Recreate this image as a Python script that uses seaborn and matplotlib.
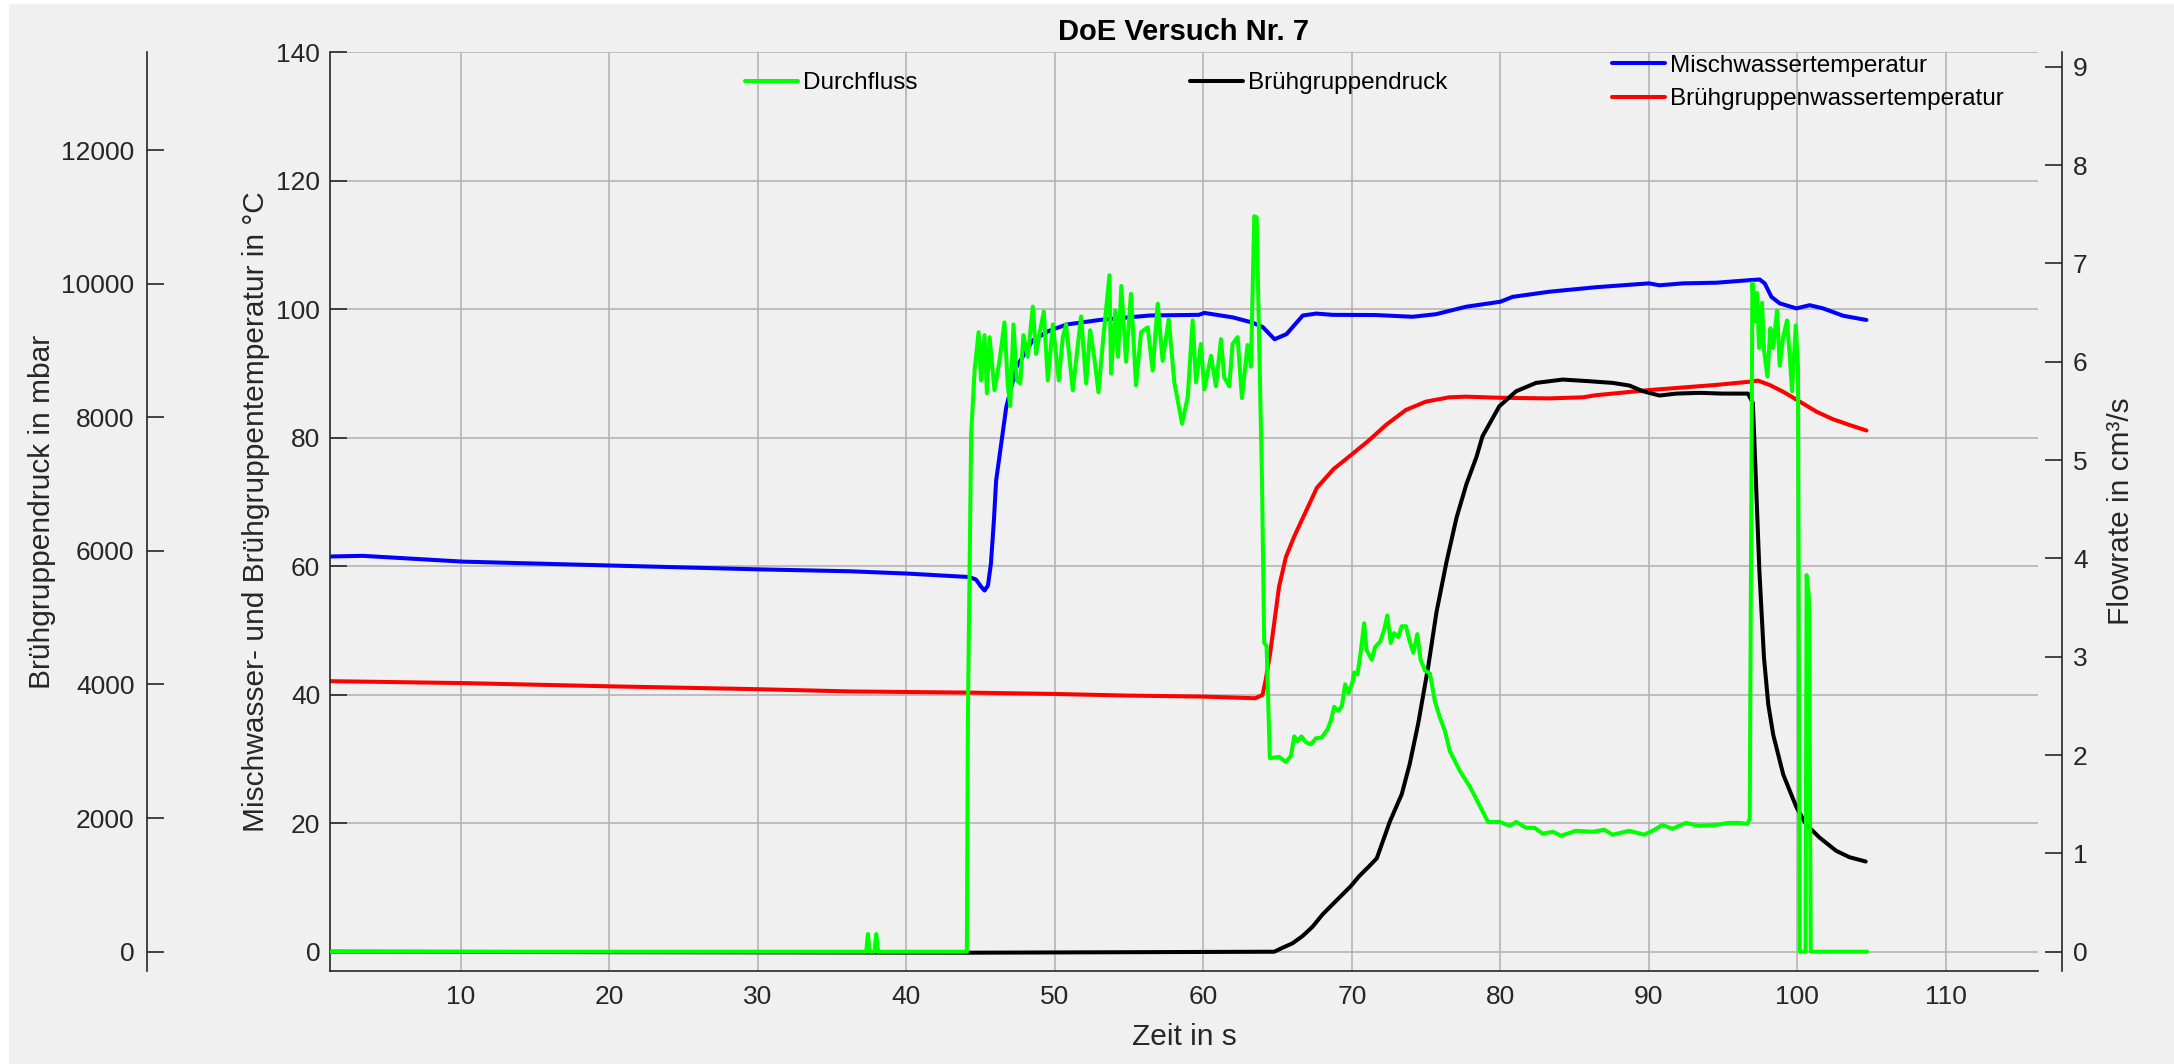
import numpy as np
import pandas as pd
import seaborn as sns
import matplotlib.pyplot as plt
from matplotlib.patches import Rectangle

# Durchfluss in cm^3/s (right axis)
t_flow = [1.2, 37.3, 37.42, 37.54, 37.86, 37.98, 38.1, 44.08, 44.15, 44.37, 44.6, 44.87,
          45.04, 45.27, 45.43, 45.61, 45.94, 46.28, 46.61, 46.84, 47.0, 47.22, 47.44, 47.67,
          47.89, 48.18, 48.52, 48.74, 48.97, 49.26, 49.53, 49.87, 50.27, 50.54, 50.76, 51.21,
          51.77, 52.11, 52.38, 52.67, 52.94, 53.27, 53.68, 53.79, 54.08, 54.26, 54.48, 54.8,
          55.13, 55.47, 55.81, 56.26, 56.59, 56.93, 57.26, 57.67, 58.05, 58.57, 58.95, 59.28,
          59.51, 59.84, 60.07, 60.52, 60.85, 61.19, 61.41, 61.75, 61.97, 62.31, 62.6, 62.98,
          63.21, 63.43, 63.59, 63.77, 63.95, 64.1, 64.26, 64.48, 65.11, 65.56, 65.9, 66.12,
          66.35, 66.61, 66.91, 67.24, 67.58, 67.98, 68.36, 68.59, 68.81, 69.1, 69.33, 69.55,
          69.78, 70.04, 70.16, 70.38, 70.61, 70.83, 70.99, 71.34, 71.57, 71.9, 72.17, 72.39,
          72.62, 72.84, 73.13, 73.36, 73.65, 73.87, 74.14, 74.41, 74.63, 74.92, 75.26, 75.59,
          75.93, 76.26, 76.6, 77.27, 77.94, 78.39, 79.17, 79.96, 80.63, 81.07, 81.74, 82.3,
          82.86, 83.53, 84.09, 85.1, 86.22, 87.0, 87.56, 88.68, 89.69, 90.25, 90.92, 91.59,
          92.48, 93.38, 94.5, 95.39, 96.06, 96.62, 96.79, 96.97, 97.12, 97.28, 97.42, 97.62,
          97.75, 97.98, 98.18, 98.36, 98.63, 98.81, 99.03, 99.3, 99.48, 99.64, 99.89, 100.04,
          100.16, 100.55, 100.62, 100.78, 100.9, 104.7]
flow = [0, 0, 0.18, 0, 0, 0.18, 0, 0, 2.4, 5.27, 5.91, 6.30,
        5.81, 6.27, 5.68, 6.25, 5.71, 6.01, 6.40, 5.75, 5.55, 6.38, 5.81, 5.78,
        6.27, 6.05, 6.56, 6.08, 6.28, 6.51, 5.81, 6.38, 5.81, 6.25, 6.38, 5.71,
        6.46, 5.78, 6.32, 6.03, 5.69, 6.25, 6.88, 5.88, 6.52, 6.05, 6.77, 6.00,
        6.69, 5.76, 6.30, 6.35, 5.91, 6.59, 6.01, 6.43, 5.79, 5.37, 5.64, 6.42,
        5.79, 6.18, 5.72, 6.06, 5.75, 6.23, 5.84, 5.75, 6.18, 6.25, 5.63, 6.17,
        5.95, 7.48, 7.47, 6.15, 4.80, 3.14, 3.11, 1.97, 1.98, 1.93, 1.99, 2.19,
        2.14, 2.19, 2.13, 2.11, 2.17, 2.18, 2.26, 2.35, 2.49, 2.45, 2.50, 2.72,
        2.63, 2.74, 2.84, 2.82, 3.06, 3.34, 3.07, 2.97, 3.10, 3.15, 3.27, 3.42,
        3.14, 3.24, 3.20, 3.31, 3.31, 3.17, 3.04, 3.23, 2.97, 2.86, 2.83, 2.55,
        2.38, 2.25, 2.04, 1.84, 1.68, 1.55, 1.32, 1.32, 1.28, 1.32, 1.26, 1.26,
        1.20, 1.22, 1.18, 1.23, 1.22, 1.24, 1.19, 1.23, 1.19, 1.23, 1.29, 1.25,
        1.31, 1.28, 1.29, 1.31, 1.31, 1.30, 1.35, 6.80, 6.41, 6.70, 6.14, 6.60,
        6.12, 5.85, 6.34, 6.14, 6.52, 5.96, 6.24, 6.42, 6.07, 5.70, 6.37, 5.94,
        0, 0, 3.83, 3.60, 0, 0]

# Brühgruppendruck in mbar (outer left axis)
t_press = [1.2, 44.1, 64.78, 65.34, 66.0, 66.68, 67.35, 68.03, 68.92, 69.93, 70.49, 71.17,
           71.68, 72.57, 73.36, 73.9, 74.47, 75.15, 75.7, 76.38, 77.05, 77.72, 78.39, 78.8,
           79.93, 81.06, 82.4, 84.2, 86.0, 87.57, 88.7, 89.6, 90.72, 91.84, 93.4, 94.99,
           96.67, 97.0, 97.2, 97.44, 97.75, 98.04, 98.37, 99.05, 99.94, 100.6, 101.5, 102.6,
           103.5, 104.6]
press = [0, -15, 0, 60, 125, 234, 373, 558, 757, 981, 1130, 1280,
         1398, 1954, 2357, 2812, 3417, 4276, 5083, 5840, 6497, 7002, 7405, 7716,
         8164, 8389, 8514, 8564, 8539, 8514, 8474, 8389, 8325, 8354, 8365, 8354,
         8354, 8215, 7100, 5700, 4400, 3700, 3250, 2650, 2160, 1902, 1707, 1512,
         1415, 1350]

# Mischwassertemperatur in °C
t_mix = [1.2, 3.4, 10.15, 20.0, 30.0, 36.2, 40.0, 44.26, 44.7, 45.04, 45.27, 45.5, 45.7,
         45.9, 46.05, 46.73, 47.4, 48.5, 49.6, 50.8, 53.0, 56.4, 59.7, 60.07, 62.0, 63.3,
         64.0, 64.8, 65.6, 66.7, 67.6, 68.7, 71.6, 74.09, 75.66, 77.69, 80.0, 80.83, 83.3,
         86.45, 90.0, 90.72, 92.3, 94.54, 96.79, 97.46, 97.8, 98.25, 98.8, 99.93, 100.83,
         101.73, 103.08, 104.65]
temp_mix = [61.5, 61.6, 60.7, 60.1, 59.5, 59.2, 58.85, 58.3, 57.9, 56.8, 56.2, 57.0, 60.4,
            67.1, 73.3, 84.7, 90.9, 95.1, 96.6, 97.6, 98.3, 99.0, 99.1, 99.4, 98.7, 97.9,
            97.2, 95.3, 96.1, 99.0, 99.3, 99.1, 99.07, 98.8, 99.2, 100.36, 101.14, 101.9, 102.7,
            103.4, 104.0, 103.7, 104.0, 104.1, 104.5, 104.6, 104.0, 101.9, 100.9, 100.1, 100.6,
            100.1, 98.96, 98.3]

# Brühgruppenwassertemperatur in °C
t_bg = [1.2, 10.15, 20.0, 30.0, 36.2, 44.26, 50.0, 54.8, 60.0, 63.5, 63.99, 64.2, 64.5,
        64.8, 65.1, 65.56, 66.1, 66.6, 67.65, 68.77, 69.82, 71.17, 72.3, 73.64, 74.99,
        76.56, 77.69, 79.93, 83.3, 85.55, 86.45, 87.8, 90.04, 92.3, 94.54, 96.79, 97.35,
        98.13, 99.03, 100.16, 101.28, 102.4, 103.5, 104.65]
temp_bg = [42.1, 41.8, 41.3, 40.85, 40.5, 40.32, 40.11, 39.86, 39.7, 39.44, 39.96, 42.3, 46.4,
           51.6, 56.8, 61.4, 64.5, 67.0, 72.2, 75.1, 77.05, 79.6, 81.97, 84.3, 85.6,
           86.27, 86.37, 86.2, 86.1, 86.27, 86.6, 86.9, 87.4, 87.8, 88.2, 88.7, 88.86,
           88.19, 87.15, 85.6, 84.04, 82.85, 81.97, 81.1]

x_ticks = list(range(10, 111, 10))
temp_ticks = list(range(0, 141, 20))
press_ticks = list(range(0, 12001, 2000))
flow_ticks = list(range(0, 10))

sns.set_theme(style="white")
plt.rcParams['font.family'] = ['Liberation Sans', 'DejaVu Sans']

W, H = 2174, 1064
bg = '#f0f0f0'
dark = '#262626'
fig = plt.figure(figsize=(W / 100, H / 100), dpi=100)
fig.patch.set_facecolor('white')
fig.add_artist(Rectangle((9 / W, 0), 1, 1 - 4 / H, transform=fig.transFigure,
                         facecolor=bg, edgecolor='none', zorder=-10))

left, right, top, bottom = 330, 2038, 52, 971
ax = fig.add_axes([left / W, 1 - bottom / H, (right - left) / W, (bottom - top) / H])
ax.set_facecolor(bg)
ax_p = ax.twinx()
ax_f = ax.twinx()

lw = 2.9
sns.lineplot(x=t_mix, y=temp_mix, ax=ax, color='#0000ff', linewidth=lw,
             estimator=None, sort=False)
sns.lineplot(x=t_bg, y=temp_bg, ax=ax, color='#ff0000', linewidth=lw,
             estimator=None, sort=False)
line_mix, line_bg = ax.lines[0], ax.lines[1]
sns.lineplot(x=t_press, y=press, ax=ax_p, color='#000000', linewidth=lw,
             estimator=None, sort=False)
line_p = ax_p.lines[0]
sns.lineplot(x=t_flow, y=flow, ax=ax_f, color='#00ff00', linewidth=lw,
             estimator=None, sort=False)
line_f = ax_f.lines[0]

ax.set_xlim(1.2, 116.2)
ax.set_ylim(-3, 140)
ax_p.set_ylim(-3 * 13467 / 140, 13467)
ax_f.set_ylim(-3 * 9.15 / 140, 9.15)

ax.set_xticks(x_ticks)
ax.set_yticks(temp_ticks)
ax_p.set_yticks(press_ticks)
ax_f.set_yticks(flow_ticks)

ax.grid(True, color='#b4b4b4', linewidth=1.2)

for a in (ax, ax_p, ax_f):
    for s in a.spines.values():
        s.set_visible(False)
        s.set_color(dark)
        s.set_linewidth(1.2)
ax.spines['left'].set_visible(True)
ax.spines['bottom'].set_visible(True)
ax_p.spines['left'].set_visible(True)
ax_p.spines['left'].set_position(('outward', (left - 147) * 0.72))
ax_p.yaxis.set_ticks_position('left')
ax_p.yaxis.set_label_position('left')
ax_f.spines['right'].set_visible(True)
ax_f.spines['right'].set_position(('outward', (2062 - right) * 0.72))

fs = 19
lfs = 21.5
ax.tick_params(axis='both', direction='in', length=12, width=1.2, colors=dark,
               labelsize=fs, pad=7)
ax.tick_params(axis='x', pad=10)
ax_p.tick_params(axis='y', direction='in', length=12, width=1.2, colors=dark,
                 labelsize=fs, pad=9)
ax_f.tick_params(axis='y', direction='in', length=12, width=1.2, colors=dark,
                 labelsize=fs, pad=8)

aw, ah = right - left, bottom - top
ax.set_xlabel('Zeit in s', fontsize=lfs, color=dark, va='center')
ax.xaxis.set_label_coords(0.5, (bottom - 1037) / ah)
ax.set_ylabel('Mischwasser- und Brühgruppentemperatur in °C', fontsize=lfs,
              color=dark, va='center')
ax.yaxis.set_label_coords((256 - left) / aw, 0.5)
ax_p.set_ylabel('Brühgruppendruck in mbar', fontsize=lfs, color=dark, va='center')
ax_p.yaxis.set_label_coords((42 - left) / aw, 0.5)
ax_f.set_ylabel('Flowrate in cm³/s', fontsize=lfs, color=dark, va='center',
                rotation=90)
ax_f.yaxis.set_label_coords((2121 - left) / aw, 0.5)

ax.set_title('DoE Versuch Nr. 7', fontsize=21, fontweight='bold', color='black',
             pad=9)

leg_kw = dict(loc='center left', bbox_transform=fig.transFigure, frameon=False,
              fontsize=17.5, handlelength=2.2, handletextpad=0.2, borderpad=0,
              borderaxespad=0, labelcolor='black')
ax_f.legend([line_f], ['Durchfluss'], bbox_to_anchor=(745 / W, 1 - 83 / H), **leg_kw)
ax_p.legend([line_p], ['Brühgruppendruck'], bbox_to_anchor=(1190 / W, 1 - 83 / H), **leg_kw)
ax.legend([line_mix, line_bg], ['Mischwassertemperatur', 'Brühgruppenwassertemperatur'],
          bbox_to_anchor=(1612 / W, 1 - 82.5 / H), labelspacing=0.47, **leg_kw)

fig.savefig('out.png', dpi=100)
